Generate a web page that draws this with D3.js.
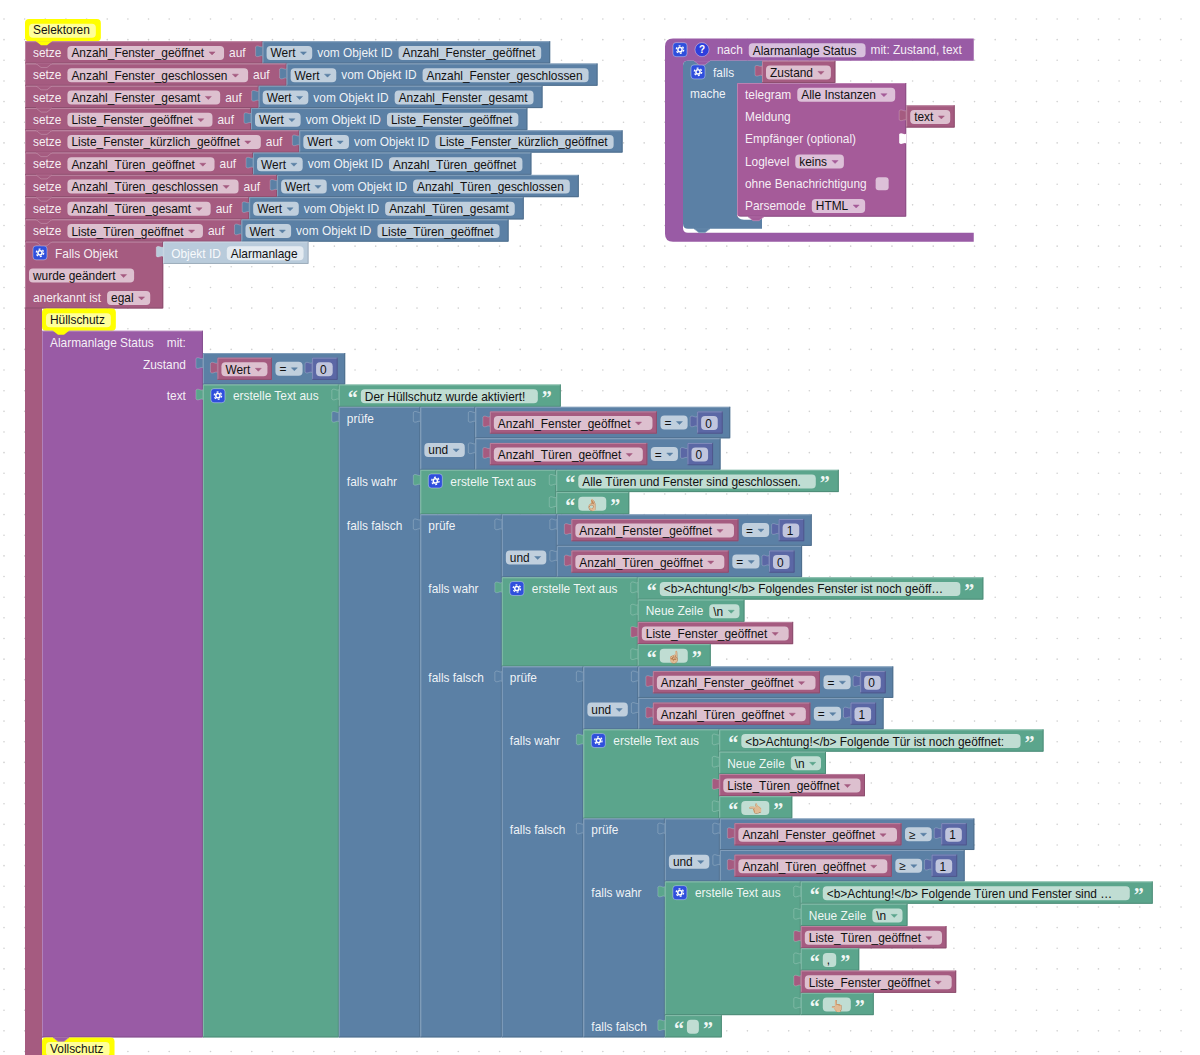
<!DOCTYPE html>
<html>
<head>
<meta charset="utf-8">
<script src="https://cdnjs.cloudflare.com/ajax/libs/d3/7.8.5/d3.min.js"></script>
<style>
  body { margin: 0; background: #fff; overflow: hidden; }
  svg { display: block; font-family: "Liberation Sans", Arial, sans-serif; }
</style>
</head>
<body>
<svg id="chart" width="1200" height="1055"></svg>
<script>
//The values shown in the workspace
var selector_names = ['Anzahl_Fenster_geöffnet', 'Anzahl_Fenster_geschlossen', 'Anzahl_Fenster_gesamt',
  'Liste_Fenster_geöffnet', 'Liste_Fenster_kürzlich_geöffnet', 'Anzahl_Türen_geöffnet',
  'Anzahl_Türen_geschlossen', 'Anzahl_Türen_gesamt', 'Liste_Türen_geöffnet'];
var branch_ops = ['=', '=', '=', '≥'];
var branch_fenster_counts = ['0', '1', '0', '1'];
var branch_tueren_counts = ['0', '0', '1', '1'];
var first_message = ['Der Hüllschutz wurde aktiviert!'];
var hand_emoji = ['👌🏼', '☝🏼', '👈🏼', '👆🏼'];
var branch_messages = [
  [['text', 'Alle Türen und Fenster sind geschlossen.'], ['text', hand_emoji[0]]],
  [['text', '<b>Achtung!</b> Folgendes Fenster ist noch geöff…'], ['newline', '\\n'], ['var', 'Liste_Fenster_geöffnet'], ['text', hand_emoji[1]]],
  [['text', '<b>Achtung!</b> Folgende Tür ist noch geöffnet:'], ['newline', '\\n'], ['var', 'Liste_Türen_geöffnet'], ['text', hand_emoji[2]]],
  [['text', '<b>Achtung!</b> Folgende Türen und Fenster sind …'], ['newline', '\\n'], ['var', 'Liste_Türen_geöffnet'], ['text', ','], ['var', 'Liste_Fenster_geöffnet'], ['text', hand_emoji[3]]]
];
var comment_names = ['Selektoren', 'Hüllschutz', 'Vollschutz'];
var telegram_options = ['Alle Instanzen', 'keins', 'HTML'];

var FONT_SIZE = 11.9;
var ROW = 22.27;
var PILL_H = 14;
var MAROON = '#a55b80', BLUE = '#5b80a5', GREEN = '#5ba58c', PURPLE = '#995ba5', INDIGO = '#5b67a5', TELEGRAM = '#a55b99', YELLOW = '#ffff00', FADED = '#b9cbdb';

var svg = d3.select('#chart');
var ctx = document.createElement('canvas').getContext('2d');
ctx.font = FONT_SIZE + 'px "Liberation Sans"';

function text_width(s)  {
  return(ctx.measureText(s).width);
}

function lab(s, gap)  { return({kind: 'lab', text: s, gap: gap}); }
function drop(s, extra)  { return({kind: 'pill', arrow: true, text: s, extra: extra || 0}); }
function inp(s, extra)  { return({kind: 'pill', arrow: false, text: s, extra: extra || 0}); }
function emoji(s)  { return({kind: 'pill', arrow: false, text: s, is_emoji: true}); }
function icon()  { return({kind: 'icon'}); }
function help()  { return({kind: 'help'}); }
function check()  { return({kind: 'check'}); }
function quote(s)  { return({kind: 'quote', text: s}); }
function inl(b)  { return({kind: 'inline', block: b}); }

function field_width(f)  {
  if(f.kind == 'lab')  return(text_width(f.text));
  if(f.kind == 'pill')  {
    if(f.is_emoji)  return(28);
    var w = text_width(f.text);
    if(f.arrow)  return(w + 20 + w * 0.03 + f.extra);
    return(Math.max(w + 10, 12) + f.extra);
  }
  if(f.kind == 'icon' || f.kind == 'help')  return(14);
  if(f.kind == 'check')  return(13);
  if(f.kind == 'quote')  return(10);
  if(f.kind == 'inline')  {
    measure_block(f.block);
    return(f.block.w);
  }
}

function get_gap(a, b)  {
  if(b.gap)  return(b.gap);
  if(a.kind == 'icon' || a.kind == 'help')  return(8);
  if(a.kind == 'quote')  return(3);
  if(b.kind == 'quote')  return(4);
  if(b.kind == 'inline')  return(9.5);
  if(a.kind == 'inline')  return(3.5);
  if(a.kind == 'pill')  return(5);
  if(b.kind == 'check')  return(9);
  return(6);
}

function get_left_pad(f)  {
  return({lab: 8, pill: 4, icon: 8, help: 8, quote: 9, inline: 14.5, check: 8}[f.kind]);
}

function get_end_pad(f, has_input)  {
  if(f.kind == 'lab')  return(has_input ? 17 : 9);
  if(f.kind == 'pill')  return(has_input ? 10 : 9);
  if(f.kind == 'inline')  return(7.5);
  return(9);
}

function measure_block(b)  {
  if(b.measured)  return(b);
  var max_w = 0, total_h = 0;
  b.rows.forEach(function(row)  {
    var cur = 0;
    row.xs = [];
    var has_inline = false;
    row.fields.forEach(function(f, i)  {
      cur += (i == 0) ? get_left_pad(f) : get_gap(row.fields[i - 1], f);
      row.xs.push(cur);
      f.w = field_width(f);
      cur += f.w;
      if(f.kind == 'inline')  has_inline = true;
    });
    if(row.fields.length > 0)  {
      var last = row.fields[row.fields.length - 1];
      cur += (row.end_pad !== undefined) ? row.end_pad : get_end_pad(last, row.input != null);
    }
    row.w = cur;
    row.has_inline = has_inline;
    max_w = Math.max(max_w, cur);
    var h = ROW;
    if(has_inline)  h = ROW + 9.23;
    if(row.input)  {
      measure_block(row.input);
      h = Math.max(h, row.input.h);
    }
    row.h = h;
    total_h += h;
  });
  b.w = b.min_w ? Math.max(b.min_w, max_w) : max_w;
  b.h = total_h;
  b.measured = true;
  return(b);
}

var block_layer = svg.append('g');
var notch_list = [];

function tab_path(x, y)  {
  return('M' + x + ',' + (y + 1) + ' C' + (x - 2) + ',' + (y + 3) + ' ' + (x - 4.5) + ',' + (y - 1) + ' ' + (x - 7) + ',' + (y + 1.5) +
    ' L' + (x - 7) + ',' + (y + 10.5) + ' C' + (x - 4.5) + ',' + (y + 13) + ' ' + (x - 2) + ',' + (y + 9) + ' ' + x + ',' + (y + 11) + ' Z');
}

function edge_lines(x, y, w, h, color)  {
  var light = d3.interpolateRgb(color, '#fff')(0.3);
  var dark = d3.interpolateRgb(color, '#000')(0.18);
  block_layer.append('path').attr('d', 'M' + (x + 0.5) + ',' + (y + h) + ' V' + (y + 0.5) + ' H' + (x + w))
    .attr('fill', 'none').attr('stroke', light).attr('stroke-width', 0.8);
  block_layer.append('path').attr('d', 'M' + (x + w - 0.5) + ',' + y + ' V' + (y + h - 0.5) + ' H' + x)
    .attr('fill', 'none').attr('stroke', dark).attr('stroke-width', 0.8);
}

function draw_text(s, x, y, fill, size, family, weight)  {
  return(block_layer.append('text')
    .attr('x', x).attr('y', y).attr('dy', '0.35em')
    .attr('font-size', size || FONT_SIZE)
    .attr('font-family', family || null)
    .attr('font-weight', weight || null)
    .attr('fill', fill)
    .text(s));
}

function draw_gear(x, y)  {
  block_layer.append('rect').attr('x', x).attr('y', y - 7).attr('width', 14).attr('height', 14).attr('rx', 3)
    .attr('fill', '#2f4fdc').attr('stroke', '#fff').attr('stroke-opacity', 0.45).attr('stroke-width', 0.8);
  block_layer.append('circle').attr('cx', x + 7).attr('cy', y).attr('r', 2.1)
    .attr('fill', 'none').attr('stroke', '#fff').attr('stroke-width', 1.5);
  block_layer.append('circle').attr('cx', x + 7).attr('cy', y).attr('r', 3.7)
    .attr('fill', 'none').attr('stroke', '#fff').attr('stroke-width', 1.3).attr('stroke-dasharray', '1.9 2');
}

function draw_field(f, x, cy, color)  {
  if(f.kind == 'lab')  {
    draw_text(f.text, x, cy, '#fff').attr('fill-opacity', 0.92);
  }
  else if(f.kind == 'pill')  {
    var pill_fill = (color == YELLOW) ? '#ffff99' : '#fff';
    block_layer.append('rect')
      .attr('x', x).attr('y', cy - PILL_H / 2).attr('width', f.w).attr('height', PILL_H).attr('rx', 4)
      .attr('fill', pill_fill).attr('fill-opacity', (color == YELLOW) ? 1 : 0.62);
    if(f.is_emoji)  {
      draw_text(f.text, x + f.w / 2, cy + 1, '#000', 11.5).attr('text-anchor', 'middle');
    }
    else  {
      //comment text sits a little higher so it stays inside the picture at the bottom edge
      draw_text(f.text, x + 4, (color == YELLOW) ? cy - 0.4 : cy + 0.3, '#111');
    }
    if(f.arrow)  {
      var ax = x + 4 + text_width(f.text) + 5;
      block_layer.append('path').attr('d', 'M' + ax + ',' + (cy - 1) + ' h6 l-3,3 z').attr('fill', color).attr('stroke', color).attr('stroke-width', 0.5);
    }
  }
  else if(f.kind == 'icon')  {
    draw_gear(x, cy - 0.5);
  }
  else if(f.kind == 'help')  {
    block_layer.append('circle').attr('cx', x + 7).attr('cy', cy - 0.5).attr('r', 7)
      .attr('fill', '#2f3fdc').attr('stroke', '#fff').attr('stroke-opacity', 0.45).attr('stroke-width', 0.8);
    draw_text('?', x + 7, cy - 0.5, '#fff', 10, null, 'bold').attr('text-anchor', 'middle');
  }
  else if(f.kind == 'check')  {
    block_layer.append('rect').attr('x', x).attr('y', cy - 6.5).attr('width', 13).attr('height', 13).attr('rx', 3)
      .attr('fill', '#fff').attr('fill-opacity', 0.62);
  }
  else if(f.kind == 'quote')  {
    draw_text(f.text, x, cy + 2, '#fff', 20, '"Liberation Serif"', 'bold').attr('fill-opacity', 0.92);
  }
  else if(f.kind == 'inline')  {
    draw_block(f.block, x, cy - f.block.h / 2);
  }
}

function draw_block(b, x, y)  {
  measure_block(b);
  if(!b.no_body)  {
    if(b.tab)  {
      block_layer.append('path').attr('d', tab_path(x, y + 4))
        .attr('fill', b.color).attr('stroke', '#fff').attr('stroke-opacity', 0.3).attr('stroke-width', 0.7);
    }
    block_layer.append('rect').attr('x', x).attr('y', y).attr('width', b.w).attr('height', b.h)
      .attr('rx', b.radius || 0).attr('fill', b.color);
    if(b.color != YELLOW)  edge_lines(x, y, b.w, b.h, b.color);
  }
  var row_y = y;
  b.rows.forEach(function(row)  {
    var shift = row.align_right ? b.w - row.w : 0;
    var cy = row.has_inline ? row_y + row.h / 2 : row_y + ROW / 2 + 0.5;
    row.fields.forEach(function(f, i)  {
      draw_field(f, x + row.xs[i] + shift, cy, b.color);
    });
    if(row.empty_input)  {
      block_layer.append('path').attr('d', tab_path(x + b.w, row_y + 5)).attr('fill', '#fff');
    }
    if(row.input)  {
      draw_block(row.input, x + b.w, row_y);
    }
    row_y += row.h;
  });
}

function add_notch(x, y, color)  {
  notch_list.push({x: x, y: y, color: color});
}

function draw_notches()  {
  notch_list.forEach(function(n)  {
    block_layer.append('path')
      .attr('d', 'M' + (n.x + 11) + ',' + n.y + ' l5,4 h6 l5,-4 z')
      .attr('fill', n.color)
      .attr('stroke', n.color == YELLOW ? 'none' : d3.interpolateRgb(n.color, '#fff')(0.3))
      .attr('stroke-width', 0.7);
    block_layer.append('rect').attr('x', n.x + 11).attr('y', n.y - 1).attr('width', 16).attr('height', 1.2).attr('fill', n.color);
  });
}

function c_shape_path(x, y, top_w, top_h, col_w, inner_h, bot_w, bot_h, r)  {
  var y1 = y + top_h, y2 = y1 + inner_h, y3 = y2 + bot_h;
  return('M' + (x + r) + ',' + y + ' H' + (x + top_w) + ' V' + y1 + ' H' + (x + col_w + 5) +
    ' Q' + (x + col_w) + ',' + y1 + ' ' + (x + col_w) + ',' + (y1 + 5) +
    ' V' + (y2 - 5) + ' Q' + (x + col_w) + ',' + y2 + ' ' + (x + col_w + 5) + ',' + y2 +
    ' H' + (x + bot_w) + ' V' + y3 + ' H' + (x + r) + ' Q' + x + ',' + y3 + ' ' + x + ',' + (y3 - r) +
    ' V' + (y + r) + ' Q' + x + ',' + y + ' ' + (x + r) + ',' + y + ' Z');
}

//Block builders, taking the arrays above
function var_block(name)  {
  return({color: MAROON, tab: true, rows: [{fields: [drop(name, text_width(name) * 0.015)], end_pad: 4.5}]});
}

function num_block(value)  {
  return({color: INDIGO, tab: true, rows: [{fields: [inp(value)], end_pad: 5}]});
}

function compare_block(name, op, value)  {
  return({color: BLUE, tab: true, rows: [{fields: [inl(var_block(name)), drop(op), inl(num_block(value))]}]});
}

function and_block(first, second)  {
  return({color: BLUE, tab: true, min_w: 55, rows: [
    {fields: [], input: first},
    {fields: [drop('und')], input: second}
  ]});
}

function text_block(s)  {
  var cell = (hand_emoji.indexOf(s) >= 0) ? emoji(s) : inp(s, text_width(s) * 0.04);
  return({color: GREEN, tab: true, rows: [{fields: [quote('“'), cell, quote('”')]}]});
}

function part_block(part)  {
  if(part[0] == 'text')  return(text_block(part[1]));
  if(part[0] == 'var')  return(var_block(part[1]));
  return({color: GREEN, tab: true, rows: [{fields: [lab('Neue Zeile'), drop(part[1])], end_pad: 5}]});
}

function join_block(parts)  {
  var rows = parts.map(function(part, i)  {
    if(i == 0)  return({fields: [icon(), lab('erstelle Text aus')], end_pad: 20, input: part_block(part)});
    return({fields: [], input: part_block(part)});
  });
  return({color: GREEN, tab: true, rows: rows});
}

function ternary_block(level)  {
  var test = and_block(
    compare_block('Anzahl_Fenster_geöffnet', branch_ops[level], branch_fenster_counts[level]),
    compare_block('Anzahl_Türen_geöffnet', branch_ops[level], branch_tueren_counts[level]));
  var otherwise = (level == branch_messages.length - 1) ? text_block('') : ternary_block(level + 1);
  return({color: BLUE, tab: true, rows: [
    {fields: [lab('prüfe')], input: test},
    {fields: [lab('falls wahr')], input: join_block(branch_messages[level])},
    {fields: [lab('falls falsch')], end_pad: 18, input: otherwise}
  ]});
}

function comment_block(name)  {
  return({color: YELLOW, radius: 4, rows: [{fields: [inp(name)], end_pad: 5}]});
}

//Background dots of the workspace
d3.range(0, 59).forEach(function(i)  {
  d3.range(0, 52).forEach(function(j)  {
    svg.append('circle').attr('cx', 4 + i * 20.65).attr('cy', 19 + j * 20.65).attr('r', 0.8).attr('fill', '#cfcfcf');
  });
});
block_layer.raise();

function draw_main_stack()  {
  var x = 25;
  var y = 19;
  var first = comment_block(comment_names[0]);
  draw_block(first, x, y);
  y += ROW;
  add_notch(x, y, YELLOW);
  selector_names.forEach(function(name)  {
    var value = {color: BLUE, tab: true, rows: [{fields: [drop('Wert'), lab('vom Objekt ID'), inp(name)]}]};
    draw_block({color: MAROON, rows: [{fields: [lab('setze'), drop(name), lab('auf')], input: value}]}, x, y);
    y += ROW;
    add_notch(x, y, MAROON);
  });

  //event block, its left bar runs off the bottom of the picture
  block_layer.append('rect').attr('x', x).attr('y', y).attr('width', 17).attr('height', 1055 - y).attr('fill', MAROON);
  var trigger_value = {color: FADED, tab: true, rows: [{fields: [lab('Objekt ID'), inp('Alarmanlage')], end_pad: 5}]};
  var trigger = {color: MAROON, rows: [
    {fields: [icon(), lab('Falls Objekt')], input: trigger_value},
    {fields: [drop('wurde geändert')]},
    {fields: [lab('anerkannt ist'), drop('egal')], end_pad: 13}
  ]};
  draw_block(trigger, x, y);
  y += 3 * ROW;

  var inner_x = x + 17;
  draw_block(comment_block(comment_names[1]), inner_x, y);
  y += ROW;
  add_notch(inner_x, y, YELLOW);

  var zustand_value = compare_block('Wert', '=', '0');
  var text_value = {color: GREEN, tab: true, rows: [
    {fields: [icon(), lab('erstelle Text aus')], end_pad: 20, input: text_block(first_message[0])},
    {fields: [], input: ternary_block(0)}
  ]};
  var call_block = {color: PURPLE, rows: [
    {fields: [lab('Alarmanlage Status'), lab('mit:', 13)], end_pad: 17},
    {fields: [lab('Zustand')], input: zustand_value, align_right: true},
    {fields: [lab('text')], input: text_value, align_right: true}
  ]};
  draw_block(call_block, inner_x, y);
  y += call_block.h;
  add_notch(inner_x, y, PURPLE);
  draw_block(comment_block(comment_names[2]), inner_x, y);
}

function draw_side_stack()  {
  var x = 665;
  var y = 38.5;
  var header = measure_block({color: PURPLE, no_body: true, rows: [
    {fields: [icon(), help(), lab('nach'), inp('Alarmanlage Status', 3), lab('mit: Zustand, text', 5)], end_pad: 12}
  ]});
  var falls_x = x + 18;
  var falls = measure_block({color: BLUE, no_body: true, min_w: 79, rows: [
    {fields: [icon(), lab('falls')], input: var_block('Zustand')}
  ]});
  var telegram = measure_block({color: TELEGRAM, rows: [
    {fields: [lab('telegram'), drop(telegram_options[0], 1)], end_pad: 11},
    {fields: [lab('Meldung')], input: var_block('text')},
    {fields: [lab('Empfänger (optional)')], empty_input: true},
    {fields: [lab('Loglevel'), drop(telegram_options[1])]},
    {fields: [lab('ohne Benachrichtigung'), check()]},
    {fields: [lab('Parsemode'), drop(telegram_options[2])]}
  ]});
  var body_h = ROW + telegram.h + 12;

  block_layer.append('path')
    .attr('d', c_shape_path(x, y, header.w, ROW, 18, body_h + 4, header.w, 9, 8))
    .attr('fill', PURPLE);
  block_layer.append('path')
    .attr('d', c_shape_path(falls_x, y + ROW, falls.w, ROW, 54, telegram.h, falls.w, 12, 5))
    .attr('fill', BLUE);
  draw_block(header, x, y);
  draw_block(falls, falls_x, y + ROW);
  draw_text('mache', falls_x + 7, y + 2 * ROW + ROW / 2, '#fff').attr('fill-opacity', 0.92);
  draw_block(telegram, falls_x + 54, y + 2 * ROW);

  //white corner under the telegram block
  var tele_bottom = y + 2 * ROW + telegram.h;
  block_layer.append('path')
    .attr('d', 'M' + (falls_x + 54) + ',' + (tele_bottom - 4) + ' Q' + (falls_x + 54) + ',' + (tele_bottom + 3) + ' ' + (falls_x + 61) + ',' + (tele_bottom + 3) +
      ' H' + (falls_x + 72) + ' V' + tele_bottom + ' H' + (falls_x + 58) + ' Q' + (falls_x + 54) + ',' + tele_bottom + ' ' + (falls_x + 54) + ',' + (tele_bottom - 4) + ' Z')
    .attr('fill', '#fff');
  add_notch(falls_x + 54, tele_bottom, TELEGRAM);
  add_notch(falls_x, y + ROW + ROW + telegram.h + 12, BLUE);
  add_notch(x + 18, y + ROW, PURPLE);
}

draw_main_stack();
draw_side_stack();
draw_notches();
</script>
</body>
</html>
